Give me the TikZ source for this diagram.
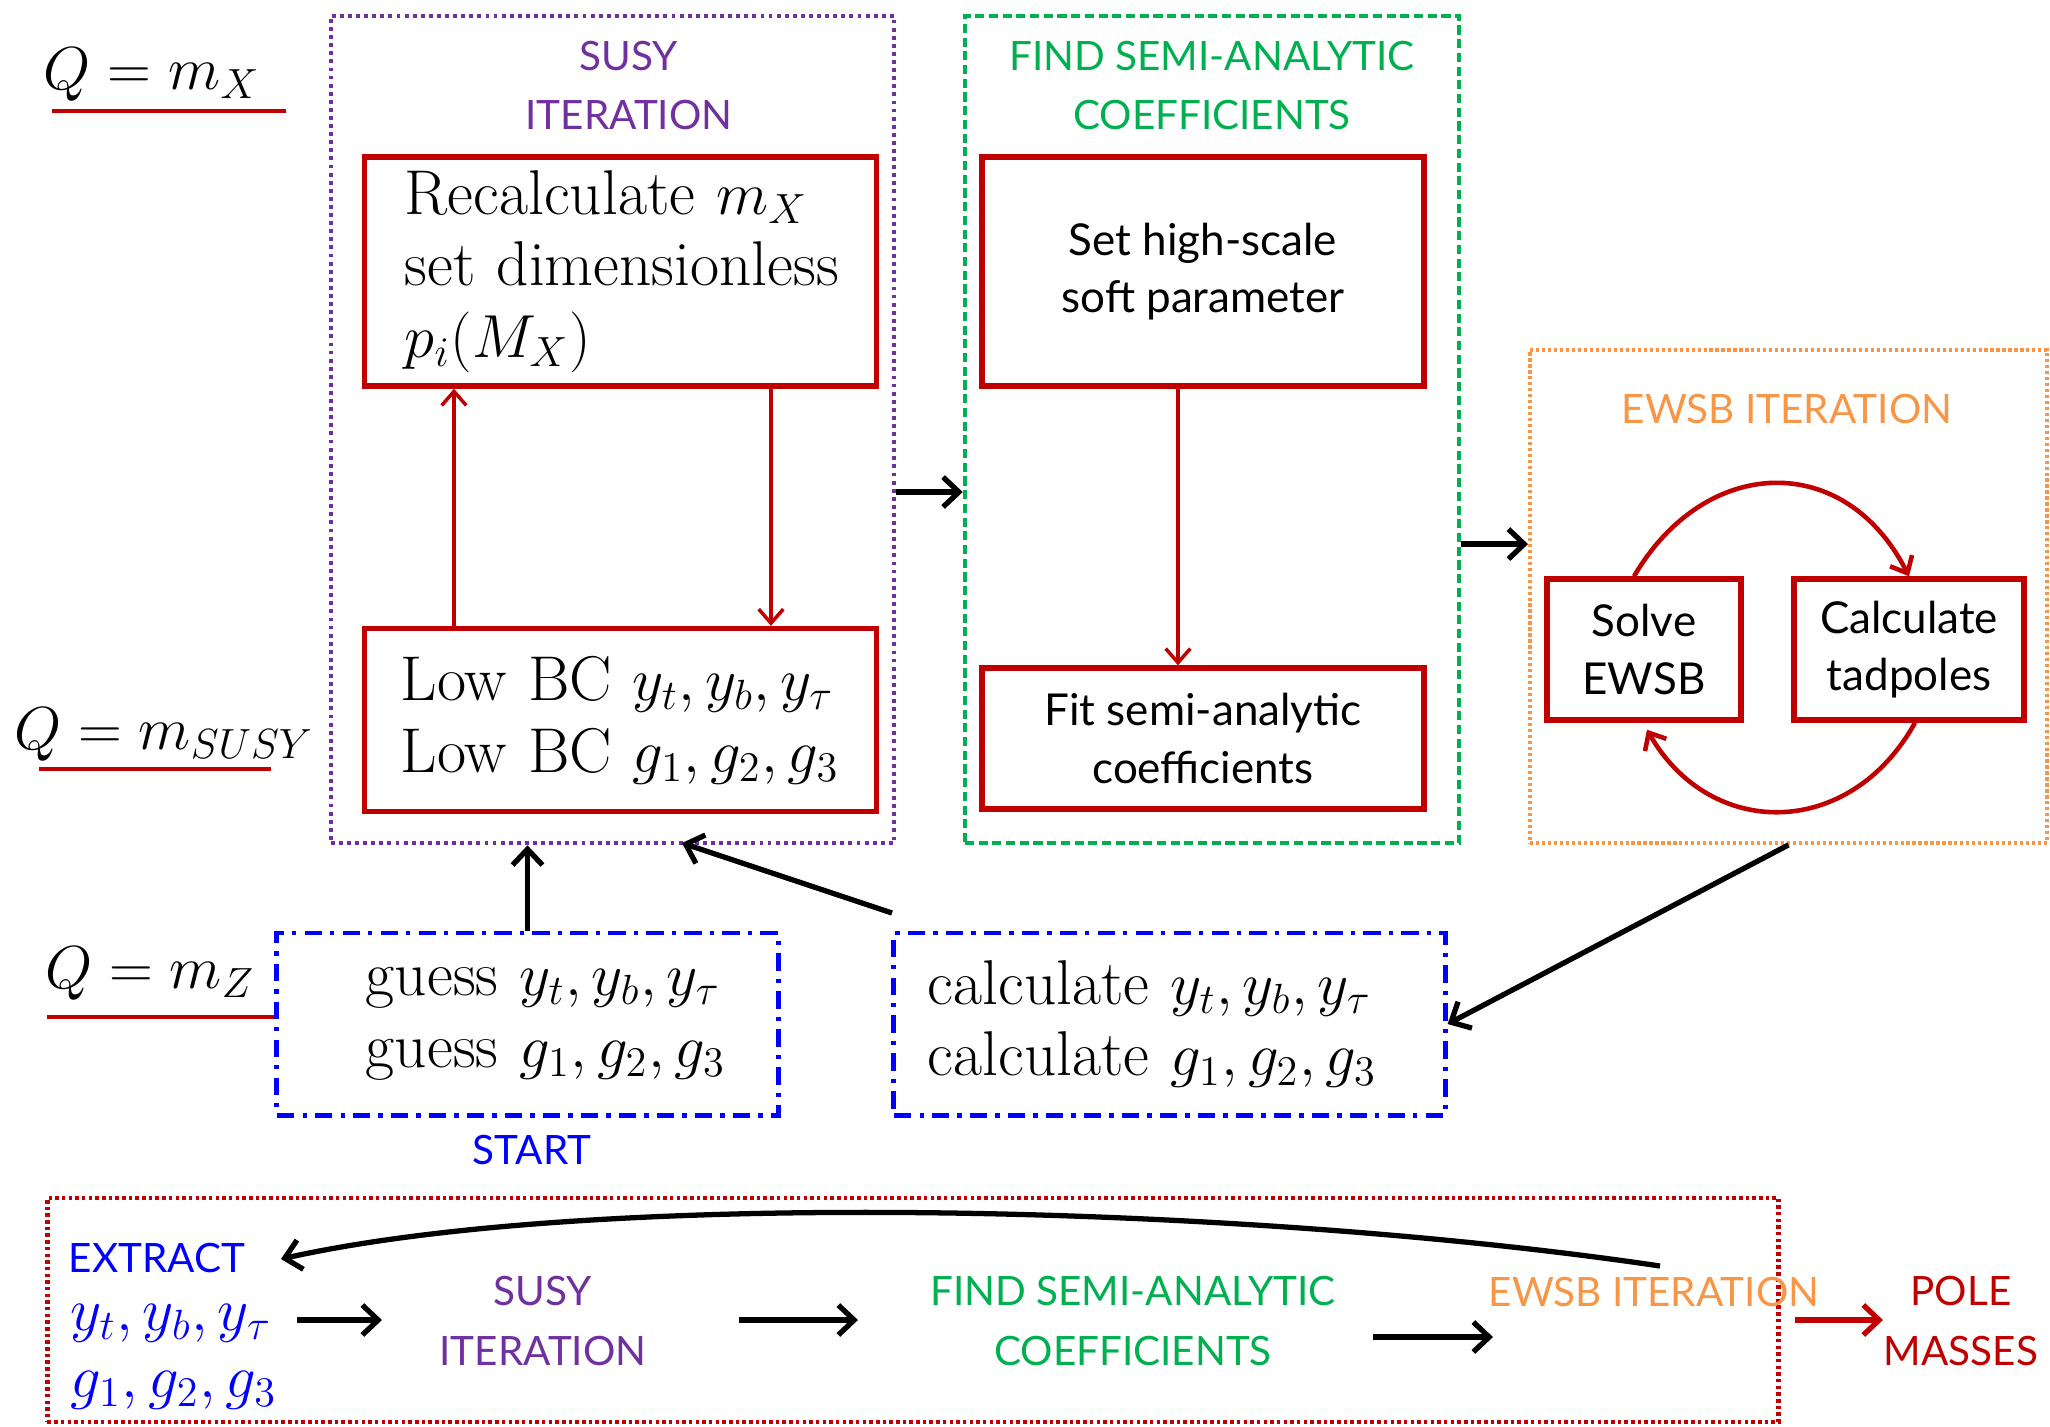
\documentclass[tikz,border=0pt]{standalone}
\usepackage{fontspec}
\newfontfamily\lato{Lato}
\usetikzlibrary{arrows.meta,calc}
\definecolor{cpurple}{RGB}{112,48,160}
\definecolor{cgreen}{RGB}{0,176,80}
\definecolor{corange}{RGB}{247,150,70}
\definecolor{cred}{RGB}{192,0,0}
\definecolor{cblue}{RGB}{0,0,255}
\hbadness=10000 \hfuzz=100pt
\begin{document}
\begin{tikzpicture}[x=0.01cm,y=-0.01cm,
  serif/.style={font=\fontsize{18}{20.4}\selectfont},
  qfont/.style={font=\fontsize{17}{20.4}\selectfont},
  sans/.style={font=\lato\fontsize{12.5}{16.4}\selectfont},
  title/.style={font=\lato\fontsize{11.5}{16.8}\selectfont},
  redbox/.style={draw=cred, line width=1.5pt, inner sep=0pt},
  bluebox/.style={draw=cblue, line width=1.4pt, inner sep=0pt, dash pattern=on 5pt off 2.3pt on 1.2pt off 2.3pt},
  purplebox/.style={draw=cpurple, line width=1.2pt, inner sep=0pt, dash pattern=on 1.1pt off 1.2pt},
  greenbox/.style={draw=cgreen, line width=1.2pt, inner sep=0pt, dash pattern=on 2.6pt off 1.3pt},
  orangebox/.style={draw=corange, line width=1pt, inner sep=0pt, dash pattern=on 0.9pt off 0.8pt},
  finalbox/.style={draw=cred, line width=1.2pt, inner sep=0pt, dash pattern=on 1pt off 0.9pt},
  qline/.style={draw=cred, line width=1.3pt},
  rarrow/.style={draw=cred, line width=1pt, -{Straight Barb[length=4pt,width=7pt]}},
  barrow/.style={draw=black, line width=1.5pt, -{Straight Barb[length=4.5pt,width=8.5pt]}},
  txt/.style={inner sep=0pt}
]
\useasboundingbox (0,0) rectangle (2050,1426);

% frames
\node[purplebox, minimum width=5.63cm, minimum height=8.27cm] (susy) at (612.5,429.5) {};
\node[greenbox, minimum width=4.94cm, minimum height=8.27cm] (semi) at (1212,429.5) {};
\node[orangebox, minimum width=5.17cm, minimum height=4.93cm] (ewsb) at (1788.5,596.5) {};
\node[finalbox, minimum width=17.30cm, minimum height=2.24cm] (final) at (913,1310) {};

% titles
\node[title, txt, text=cpurple, align=center] (susyT) at (629,85.5) {SUSY\\ITERATION};
\node[title, txt, text=cgreen, align=center] (semiT) at (1212,85.5) {FIND SEMI-ANALYTIC\\COEFFICIENTS};
\node[title, txt, text=corange] (ewsbT) at (1787,409) {EWSB ITERATION};
\node[title, txt, text=cblue] (startT) at (532,1150) {START};

% red boxes
\node[redbox, serif, minimum width=5.11cm, minimum height=2.29cm, text width=4.31cm, align=left] (recalc) at (620.5,271.5) {\mbox{Recalculate $m_X$}\\ \mbox{set dimensionless}\\ \mbox{$p_i(M_X)$}};
\node[redbox, serif, minimum width=5.11cm, minimum height=1.83cm, text width=4.39cm, align=left] (lowbc) at (620.5,720) {\mbox{Low BC $y_t,y_b,y_\tau$}\\ \mbox{Low BC $g_1,g_2,g_3$}};
\node[redbox, sans, minimum width=4.42cm, minimum height=2.29cm, align=center] (sethigh) at (1203,271.5) {Set high-scale\\ soft parameter};
\node[redbox, sans, minimum width=4.42cm, minimum height=1.41cm, align=center] (fit) at (1203,738.5) {Fit semi-analytic\\ coefficients};
\node[redbox, sans, minimum width=1.94cm, minimum height=1.41cm, align=center] (solve) at (1644,649.5) {Solve\\ EWSB};
\node[redbox, sans, minimum width=2.30cm, minimum height=1.41cm, align=center] (tad) at (1909,649.5) {Calculate\\ tadpoles};

% blue boxes
\node[bluebox, serif, minimum width=5.01cm, minimum height=1.82cm, text width=3.23cm, align=left] (start) at (527.5,1024) {\mbox{guess $y_t,y_b,y_\tau$}\\ \mbox{guess $g_1,g_2,g_3$}};
\node[bluebox, serif, minimum width=5.51cm, minimum height=1.82cm, text width=4.83cm, align=left] (calc) at (1169.5,1024) {\mbox{calculate $y_t,y_b,y_\tau$}\\ \mbox{calculate $g_1,g_2,g_3$}};

% scale labels
\node[qfont, txt] (qx) at (152,75) {$Q=m_X$};
\node[qfont, txt] (qs) at (164,735) {$Q=m_{SUSY}$};
\node[qfont, txt] (qz) at (150,974) {$Q=m_Z$};
\coordinate (ux1) at (52,111); \coordinate (ux2) at (286,111);
\coordinate (us1) at (39,769); \coordinate (us2) at (271,769);
\coordinate (uz1) at (47,1017);
\draw[qline] (ux1) -- (ux2);
\draw[qline] (us1) -- (us2);
\draw[qline] (uz1) -- (uz1 -| start.west);

% red arrows
\draw[rarrow] (454,0 |- lowbc.north) -- (454,0 |- recalc.south);
\draw[rarrow] (771,0 |- recalc.south) -- (771,0 |- lowbc.north);
\draw[rarrow] (1178,0 |- sethigh.south) -- (1178,0 |- fit.north);
\draw[rarrow, line width=1.3pt] ([xshift=-0.1cm]solve.north) .. controls (1705,455) and (1845,450) .. (tad.north);
\draw[rarrow, line width=1.3pt] ([xshift=0.06cm]tad.south) .. controls (1850,840) and (1710,840) .. ([xshift=0.03cm,yshift=-0.07cm]solve.south);

% black arrows
\coordinate (p1) at ([yshift=-0.625cm]susy.east);
\draw[barrow] (p1) -- (p1 -| semi.west);
\coordinate (p2) at ([yshift=-1.145cm]semi.east);
\draw[barrow] (p2) -- (p2 -| ewsb.west);
\draw[barrow] (start.north) -- (start.north |- susy.south);
\coordinate (cs) at (892,913); \coordinate (ce) at (682,843);
\draw[barrow] (cs) -- (ce);
\draw[barrow] (ewsb.south) -- (calc.east);

% bottom summary
\node[title, txt, text=cblue, anchor=west] (extract) at (68,1258) {EXTRACT};
\node[serif, txt, text=cblue, anchor=west] (ys) at (70,1323) {$y_t,y_b,y_\tau$};
\node[serif, txt, text=cblue, anchor=west] (gs) at (70,1390) {$g_1,g_2,g_3$};
\node[title, txt, text=cpurple, align=center] (b1) at (543,1321) {SUSY\\ITERATION};
\node[title, txt, text=cgreen, align=center] (b2) at (1133,1321) {FIND SEMI-ANALYTIC\\COEFFICIENTS};
\node[title, txt, text=corange] (b3) at (1654,1292) {EWSB ITERATION};
\node[title, txt, text=cred, align=center] (b4) at (1961,1321) {POLE\\MASSES};
\coordinate (a1) at (297,1320); \coordinate (a2) at (382,1320);
\coordinate (a3) at (739,1320); \coordinate (a4) at (858,1320);
\coordinate (a5) at (1373,1337); \coordinate (a6) at (1493,1337);
\coordinate (a7) at (1795,1320); \coordinate (a8) at (1883,1320);
\draw[barrow] (a1) -- (a2);
\draw[barrow] (a3) -- (a4);
\draw[barrow] (a5) -- (a6);
\draw[barrow, draw=cred] (a7) -- (a8);
\coordinate (k1) at (1660,1266); \coordinate (k2) at (281,1259);
\draw[barrow] (k1) .. controls (1250,1205) and (600,1188) .. (k2);
\end{tikzpicture}
\end{document}
